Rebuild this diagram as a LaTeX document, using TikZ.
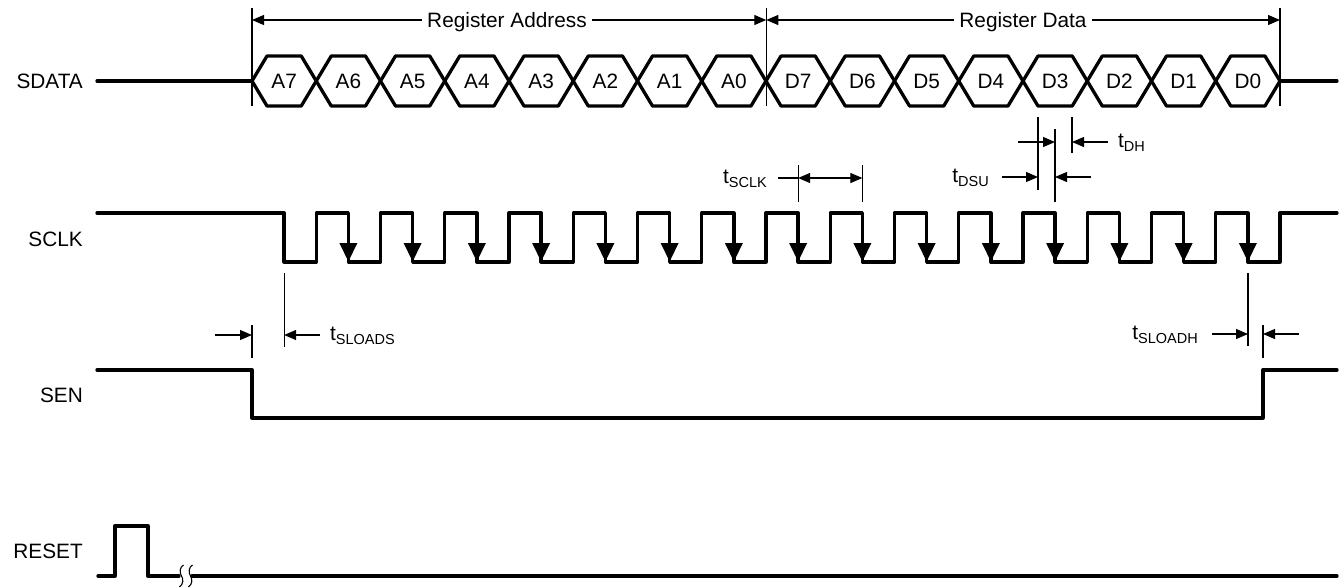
\documentclass[tikz,border=0pt]{standalone}
\usepackage{fontspec}
\setmainfont{Liberation Sans}
\usetikzlibrary{arrows.meta}
\newcommand\tsub[1]{t\raisebox{-4.5pt}{\fontsize{14.5}{14.5}\selectfont #1}}
\begin{document}
\begin{tikzpicture}[x=1pt,y=-1pt,
  sig/.style={line width=3.3pt,line join=round,line cap=round},
  thinline/.style={line width=1.1pt},
  dimarr/.style={line width=1.1pt,-{Triangle[length=12pt,width=10pt]}},
  dimboth/.style={line width=1.1pt,{Triangle[length=12pt,width=10pt]}-{Triangle[length=12pt,width=10pt]}},
  lbl/.style={font=\fontsize{20.8}{24}\selectfont,inner sep=0pt},
  siglbl/.style={lbl,anchor=east},
  reglbl/.style={font=\fontsize{20.8}{24}\selectfont,inner sep=5pt,anchor=base},
  tlbl/.style={font=\fontsize{20.8}{24}\selectfont,inner sep=0pt}]
\useasboundingbox (0,0) rectangle (1344,587);

% signal names
\node[siglbl] (sdata) at (83,81.5) {SDATA};
\node[siglbl] (sclk) at (83,239) {SCLK};
\node[siglbl] (sen) at (83,395) {SEN};
\node[siglbl] (reset) at (83,551) {RESET};

% register dimension lines
\draw[thinline] (252,8) -- (252,106);
\draw[thinline] (766.25,8) -- (766.25,106);
\draw[thinline] (1280,8) -- (1280,106);
\node[reglbl] (raddr) at (507,27) {Register Address};
\node[reglbl] (rdata) at (1023,27) {Register Data};
\draw[dimarr] (raddr.west |- 0,20) -- (252,20);
\draw[dimarr] (raddr.east |- 0,20) -- (766.25,20);
\draw[dimarr] (rdata.west |- 0,20) -- (766.25,20);
\draw[dimarr] (rdata.east |- 0,20) -- (1280,20);

% SDATA
\draw[sig] (97,81) -- (252,81);
\draw[sig] (1280,81) -- (1337,81);
\foreach \i/\lab in {0/A7,1/A6,2/A5,3/A4,4/A3,5/A2,6/A1,7/A0,8/D7,9/D6,10/D5,11/D4,12/D3,13/D2,14/D1,15/D0}{
  \pgfmathsetmacro\xa{252+64.25*\i}
  \pgfmathsetmacro\xb{\xa+64.25}
  \draw[sig] (\xa,81) -- ({\xa+15},56) -- ({\xb-15},56) -- (\xb,81) -- ({\xb-15},106) -- ({\xa+15},106) -- cycle;
  \node[lbl] (bit\i) at ({\xa+32.125},81) {\lab};
}

% SCLK
\draw[sig] (97,213) \foreach \k in {0,...,15}{ -- ({284.125+64.25*\k},213) -- ++(0,49) -- ({316.25+64.25*\k},262) -- ++(0,-49) } -- (1337,213);
\foreach \k in {1,...,15}{
  \fill ({284.125+64.25*\k-9},243) -- ++(18,0) -- ({284.125+64.25*\k},261.5) -- cycle;
}

% SEN
\draw[sig] (97,370) -- (252,370) -- (252,418) -- (1263,418) -- (1263,370) -- (1337,370);

% RESET
\draw[sig] (98,576) -- (115,576) -- (115,526) -- (148,526) -- (148,576) -- (179,576);
\draw[sig] (192,576) -- (1337,576);
\draw[thinline] (183.5,565) .. controls (179.5,567) and (179.5,573) .. (181.5,576) .. controls (183.5,579) and (183.5,584) .. (179.5,587);
\draw[thinline] (192.5,565) .. controls (188.5,567) and (188.5,573) .. (190.5,576) .. controls (192.5,579) and (192.5,584) .. (188.5,587);

% tSCLK
\draw[thinline] (798.1,165) -- (798.1,202);
\draw[thinline] (862.4,165) -- (862.4,202);
\draw[dimboth] (798.1,178) -- (862.4,178);
\node[tlbl,anchor=base east] (tsclk) at (767,183) {\tsub{SCLK}};
\draw[thinline] (778,178) -- (798.1,178);

% tDSU / tDH
\draw[thinline] (1038,117) -- (1038,190);
\draw[thinline] (1055,129) -- (1055,202);
\draw[thinline] (1072,117) -- (1072,153);
\node[tlbl,anchor=base east] (tdsu) at (989,182) {\tsub{DSU}};
\draw[dimarr] (1002,177) -- (1038,177);
\draw[dimarr] (1091,177) -- (1055,177);
\node[tlbl,anchor=base west] (tdh) at (1118,147) {\tsub{DH}};
\draw[dimarr] (1018,142) -- (1055,142);
\draw[dimarr] (1108,142) -- (1072,142);

% tSLOADS
\draw[thinline] (284.1,273) -- (284.1,347);
\draw[thinline] (252,325) -- (252,358);
\draw[dimarr] (215,335) -- (252,335);
\draw[dimarr] (320,335) -- (284.1,335);
\node[tlbl,anchor=base west] (tsloads) at (330,340) {\tsub{SLOADS}};

% tSLOADH
\draw[thinline] (1248,273) -- (1248,346);
\draw[thinline] (1263,325) -- (1263,358);
\draw[dimarr] (1212,334) -- (1248,334);
\draw[dimarr] (1299,334) -- (1263,334);
\node[tlbl,anchor=base east] (tsloadh) at (1198,339) {\tsub{SLOADH}};
\end{tikzpicture}
\end{document}
